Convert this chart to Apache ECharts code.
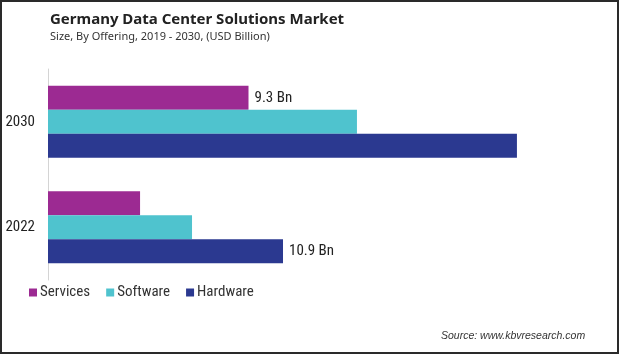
<!DOCTYPE html>
<html>
<head>
<meta charset="utf-8">
<script src="https://cdn.jsdelivr.net/npm/echarts@6/dist/echarts.min.js"></script>
<style>
  html, body { margin: 0; padding: 0; background: #fff; }
  #chart { width: 619px; height: 354px; box-sizing: border-box; border: 2px solid #2a2a2a; }
</style>
</head>
<body>
<div id="chart"></div>
<script>
const years = ['2022', '2030']
const services = [4.27, 9.3]
const software = [6.68, 14.33]
const hardware = [10.9, 21.75]
const servicesLabels = ['', '9.3 Bn']
const hardwareLabels = ['10.9 Bn', '']

const colors = { services: '#9c2a92', software: '#4fc3ce', hardware: '#2b3990' }
const narrow = '"Liberation Sans Narrow", "Roboto Condensed", Arial, sans-serif'

const chart = echarts.init(document.getElementById('chart'), null, { renderer: 'canvas' })

const labelFor = (texts) => ({
  show: true,
  position: 'right',
  distance: 6,
  color: '#222',
  fontFamily: narrow,
  fontSize: 15,
  formatter: (p) => texts[p.dataIndex],
})

chart.setOption({
  animation: false,
  title: [
    {
      text: 'Germany Data Center Solutions Market',
      left: 43,
      top: 5,
      textStyle: { fontFamily: '"Noto Sans", sans-serif', fontSize: 15, fontWeight: 'bold', color: '#222' },
    },
    {
      text: 'Size, By Offering, 2019 - 2030, (USD Billion)',
      left: 43,
      top: 24,
      textStyle: { fontFamily: '"Noto Sans", sans-serif', fontSize: 11, fontWeight: 'normal', color: '#333' },
    },
    {
      text: 'Source: www.kbvresearch.com',
      left: 434,
      top: 324,
      textStyle: { fontFamily: '"Liberation Sans", Arial, sans-serif', fontSize: 10.5, fontStyle: 'italic', fontWeight: 'normal', color: '#333' },
    },
  ],
  legend: {
    left: 22,
    top: 278,
    itemWidth: 8,
    itemHeight: 8,
    itemGap: 16,
    icon: 'rect',
    textStyle: { fontFamily: narrow, fontSize: 15, color: '#333', padding: [0, 0, 0, -2] },
    data: ['Services', 'Software', 'Hardware'],
  },
  grid: { left: 46, top: 67, width: 539, height: 211, containLabel: false },
  xAxis: {
    type: 'value',
    min: 0,
    max: 25,
    show: false,
  },
  yAxis: {
    type: 'category',
    data: years,
    axisLine: { show: true, lineStyle: { color: '#d4d4d4', width: 1 } },
    axisTick: { show: false },
    axisLabel: { color: '#222', fontFamily: narrow, fontSize: 15, margin: 13 },
    splitLine: { show: false },
  },
  series: [
    {
      name: 'Services',
      type: 'bar',
      data: services,
      barWidth: 24,
      barGap: '0%',
      barCategoryGap: '31%',
      itemStyle: { color: colors.services },
      label: labelFor(servicesLabels),
    },
    {
      name: 'Software',
      type: 'bar',
      data: software,
      barWidth: 24,
      barGap: '0%',
      itemStyle: { color: colors.software },
    },
    {
      name: 'Hardware',
      type: 'bar',
      data: hardware,
      barWidth: 24,
      barGap: '0%',
      itemStyle: { color: colors.hardware },
      label: labelFor(hardwareLabels),
    },
  ],
})
</script>
</body>
</html>
